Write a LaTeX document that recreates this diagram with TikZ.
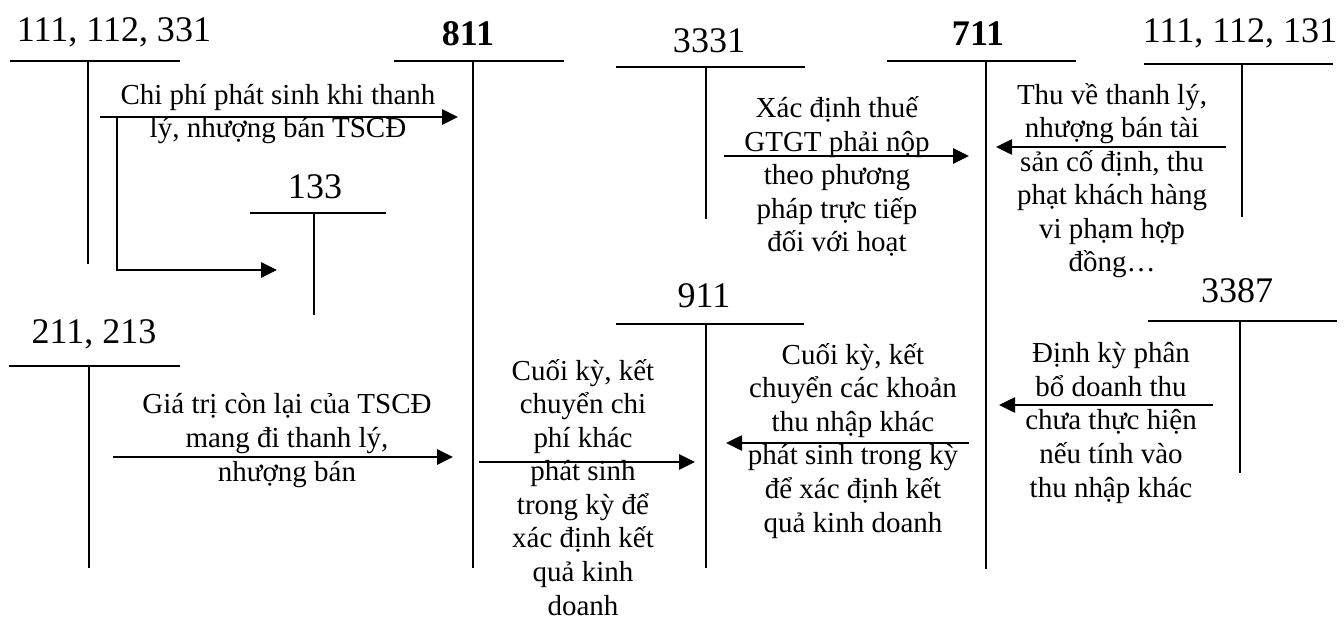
\documentclass[tikz,border=0pt]{standalone}
\usepackage{fontspec}
\setmainfont{Liberation Serif}
\usetikzlibrary{arrows.meta}

\begin{document}
\begin{tikzpicture}[x=0.02cm, y=-0.02cm, >={Triangle[length=3.2mm, width=3mm]},
  acc/.style={font=\fontsize{20.5}{24}\selectfont, anchor=base, inner sep=0pt},
  accb/.style={acc, font=\fontsize{20.5}{24}\selectfont\bfseries},
  tline/.style={line width=1.1pt},
  flow/.style={->, line width=1.5pt},
  lab/.style={font=\fontsize{16.5}{19.1}\selectfont, align=center, anchor=base, inner sep=0pt}]
\useasboundingbox (0,0) rectangle (1344,621);

% T accounts
\node[acc] (a111l) at (114,42) {111, 112, 331};
\draw[tline] (10,61) -- (180,61) (88,61) -- (88,264);
\node[accb] (a811) at (468,46) {811};
\draw[tline] (394,61) -- (564,61) (473,61) -- (473,568);
\node[acc] (a3331) at (709,53) {3331};
\draw[tline] (616,67) -- (805,67) (706,67) -- (706,219);
\node[accb] (a711) at (978,46) {711};
\draw[tline] (887,61) -- (1076,61) (986,61) -- (986,569);
\node[acc] (a111r) at (1240,43) {111, 112, 131};
\draw[tline] (1144,64) -- (1333,64) (1242,64) -- (1242,217);
\node[acc] (a133) at (315,199) {133};
\draw[tline] (250,213) -- (386,213) (314,213) -- (314,315);
\node[acc] (a211) at (94,343) {211, 213};
\draw[tline] (9,366) -- (180,366) (89,366) -- (89,568);
\node[acc] (a911) at (704,307) {911};
\draw[tline] (616,324) -- (804,324) (706,324) -- (706,568);
\node[acc] (a3387) at (1237,302) {3387};
\draw[tline] (1148,321) -- (1337,321) (1240,321) -- (1240,473);

% arrow ends
\coordinate (s1) at (100,117);   \coordinate (e1) at (458,117);
\coordinate (k1) at (117,117);   \coordinate (e2) at (277,270);
\coordinate (s3) at (113,457);   \coordinate (e3) at (453,457);
\coordinate (s4) at (479,462);   \coordinate (e4) at (695,462);
\coordinate (s5) at (724,156);   \coordinate (e5) at (969,156);
\coordinate (s6) at (1226,147);  \coordinate (e6) at (996,147);
\coordinate (s7) at (969,443);   \coordinate (e7) at (726,443);
\coordinate (s8) at (1213,405);  \coordinate (e8) at (999,405);

\draw[flow] (s1) -- (e1);
\draw[flow] (k1) |- (e2);
\draw[flow] (s3) -- (e3);
\draw[flow] (s4) -- (e4);
\draw[flow] (s5) -- (e5);
\draw[flow] (s6) -- (e6);
\draw[flow] (s7) -- (e7);
\draw[flow] (s8) -- (e8);

% texts (placed by the baseline of their last line)
\node[lab] (t1) at (278,138) {Chi phí phát sinh khi thanh\\lý, nhượng bán TSCĐ};
\node[lab] (t3) at (287,481) {Giá trị còn lại của TSCĐ\\mang đi thanh lý,\\nhượng bán};
\node[lab] (t4) at (583,615) {Cuối kỳ, kết\\chuyển chi\\phí khác\\phát sinh\\trong kỳ để\\xác định kết\\quả kinh\\doanh};
\node[lab] (t5) at (837,252) {Xác định thuế\\GTGT phải nộp\\theo phương\\pháp trực tiếp\\đối với hoạt};
\node[lab] (t6) at (1112,272) {Thu về thanh lý,\\nhượng bán tài\\sản cố định, thu\\phạt khách hàng\\vi phạm hợp\\đồng…};
\node[lab] (t7) at (853,532) {Cuối kỳ, kết\\chuyển các khoản\\thu nhập khác\\phát sinh trong kỳ\\để xác định kết\\quả kinh doanh};
\node[lab] (t8) at (1111,497) {Định kỳ phân\\bổ doanh thu\\chưa thực hiện\\nếu tính vào\\thu nhập khác};
\end{tikzpicture}
\end{document}
